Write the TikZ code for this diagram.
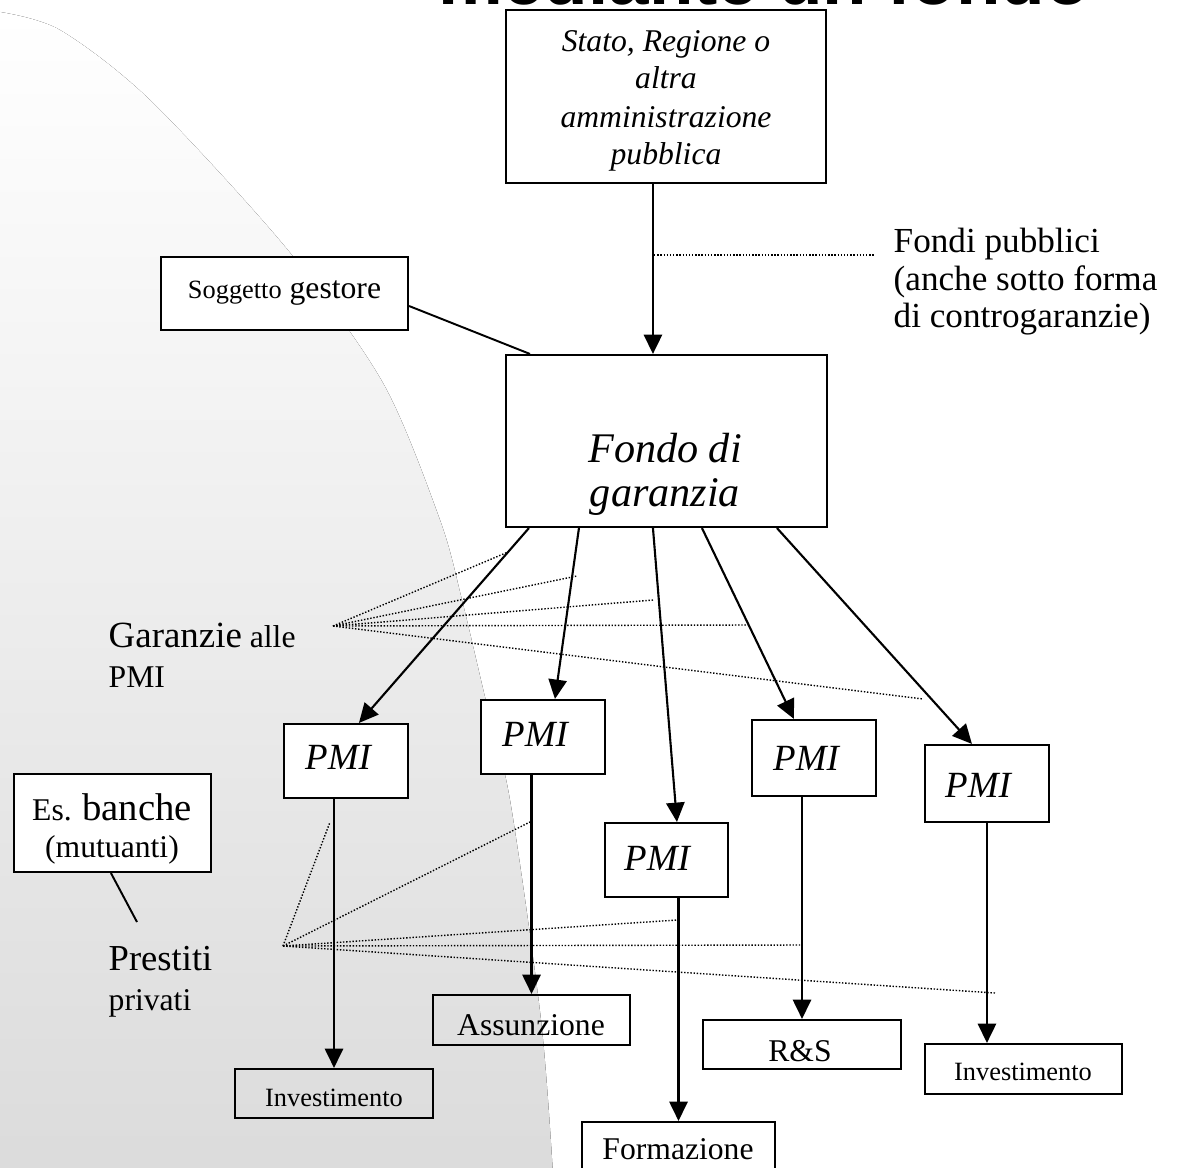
\documentclass[tikz,border=0pt]{standalone}
\usepackage{fontspec}
\setmainfont{Liberation Serif}
\newfontfamily\titlefont{Liberation Sans}
\usetikzlibrary{arrows.meta,calc,fit}
\begin{document}
\begin{tikzpicture}[x=0.01cm,y=-0.01cm,
  box/.style={draw, line width=0.6pt, inner sep=0pt},
  wbox/.style={box, fill=white},
  arr/.style={line width=0.6pt, -{Triangle[length=5.5pt,width=5.2pt]}},
  ln/.style={line width=0.55pt},
  dotl/.style={line width=0.4pt, dash pattern=on 0.4pt off 0.5pt},
  txt/.style={inner sep=0pt, anchor=base},
  ltxt/.style={inner sep=0pt, anchor=base west},
  fa/.style={font=\fontsize{7.5}{9}\selectfont},
  fb/.style={font=\fontsize{9}{10.8}\selectfont},
  fbi/.style={font=\fontsize{9}{10.8}\selectfont\itshape},
  fc/.style={font=\fontsize{10}{12}\selectfont},
  fpmi/.style={font=\fontsize{10.5}{12.5}\selectfont\itshape},
  fbig/.style={font=\fontsize{12}{14}\selectfont\itshape}
]
\useasboundingbox (0,0) rectangle (1177,1167);
\clip (0,0) rectangle (1177,1167);
% background shape
\fill[top color=white, bottom color=black!14]
  plot[smooth] coordinates {(0,12) (60,30) (150,100) (287,249) (383,383) (440,520) (462,600) (485,697) (510,800) (541,1020) (553,1175)}
  -- (0,1175) -- cycle;
% title (cut off at the top)
\node[inner sep=0pt, anchor=base west, font=\titlefont\bfseries\fontsize{20.7}{24}\selectfont] (title) at (438,5) {mediante un fondo};

% boxes
\node[wbox, fit={(506,10) (826,183)}] (stato) {};
\node[wbox, fit={(161,257) (408,330)}] (sogg) {};
\node[wbox, fit={(506,355) (827,527)}] (fondo) {};
\node[wbox, fit={(284,724) (408,798)}] (pmi1) {};
\node[wbox, fit={(481,700) (605,774)}] (pmi2) {};
\node[wbox, fit={(605,823) (728,897)}] (pmi3) {};
\node[wbox, fit={(752,720) (876,796)}] (pmi4) {};
\node[wbox, fit={(925,745) (1049,822)}] (pmi5) {};
\node[wbox, fit={(14,774) (211,872)}] (es) {};
\node[box, fit={(235,1069) (433,1118)}] (inv1) {};
\node[box, fit={(433,995) (630,1045)}] (ass) {};
\node[box, fit={(582,1122) (775,1185)}] (form) {};
\node[box, fit={(703,1020) (901,1069)}] (rs) {};
\node[box, fit={(925,1044) (1122,1094)}] (inv2) {};

% texts
\node[txt, fbi] (st1) at (666,52) {Stato, Regione o};
\node[txt, fbi] (st2) at (666,89) {altra};
\node[txt, fbi] (st3) at (666,128) {amministrazione};
\node[txt, fbi] (st4) at (666,165) {pubblica};
\node[txt, fb] (sogt) at (284.5,298) {{\fontsize{7.5}{9}\selectfont Soggetto} gestore};
\node[ltxt, fc] (fp1) at (893,252) {Fondi pubblici};
\node[ltxt, fc] (fp2) at (893,290) {(anche sotto forma};
\node[ltxt, fc] (fp3) at (893,327) {di controgaranzie)};
\node[txt, fbig] (fo1) at (665,462) {Fondo di};
\node[txt, fbig] (fo2) at (665,506) {garanzia};
\node[txt, fpmi] (pt1) at (338,769) {PMI};
\node[txt, fpmi] (pt2) at (535,746) {PMI};
\node[txt, fpmi] (pt3) at (657,870) {PMI};
\node[txt, fpmi] (pt4) at (806,770) {PMI};
\node[txt, fpmi] (pt5) at (978,797) {PMI};
\node[ltxt, fb] (g1) at (108,647) {{\fontsize{10.5}{12}\selectfont Garanzie} alle};
\node[ltxt, fb] (g2) at (108,687) {PMI};
\node[ltxt, fb] (pr1) at (108,970) {{\fontsize{10.4}{12}\selectfont Prestiti}};
\node[ltxt, fb] (pr2) at (108,1010) {privati};
\node[txt, fb] (es1) at (112,820) {Es. {\fontsize{11}{13}\selectfont banche}};
\node[txt, fb] (es2) at (112,857) {(mutuanti)};
\node[txt, fa] (it1) at (334,1106) {Investimento};
\node[txt, fb] (at) at (531,1035) {Assunzione};
\node[txt, fb] (ft) at (678,1159) {Formazione};
\node[txt, fb] (rt) at (800,1061) {R\&S};
\node[txt, fa] (it2) at (1023,1080) {Investimento};

% connectors
\draw[arr] ($(stato.south west)+(148,0)$) -- ($(fondo.north west)+(148,0)$);
\draw[ln] ($(sogg.east)+(0,12.5)$) -- ($(fondo.north west)+(25,0)$);
\coordinate (fpa) at (654,255);
\coordinate (fpb) at (875,255);
\draw[dotl] (fpa) -- (fpb);

\draw[arr] ($(fondo.south west)+(24,0)$) -- ($(pmi1.north west)+(76,0)$);
\draw[arr] ($(fondo.south west)+(74,0)$) -- ($(pmi2.north west)+(75,0)$);
\draw[arr] ($(fondo.south west)+(148,0)$) -- ($(pmi3.north west)+(73,0)$);
\draw[arr] ($(fondo.south west)+(197,0)$) -- ($(pmi4.north west)+(43,0)$);
\draw[arr] ($(fondo.south west)+(272,0)$) -- ($(pmi5.north west)+(48,0)$);

\draw[arr] (pmi1.south -| inv1.north) -- (inv1.north);
\draw[arr] (pmi2.south -| ass.north) -- (ass.north);
\draw[arr] (pmi3.south -| form.north) -- (form.north);
\draw[arr] (pmi4.south -| rs.north) -- (rs.north);
\draw[arr] ($(pmi5.south west)+(63,0)$) -- ($(inv2.north west)+(63,0)$);

\coordinate (esl) at (137,922);
\draw[ln] ($(es.south west)+(98,0)$) -- (esl);

% dotted fans
\coordinate (g0) at (333,626);
\coordinate (ga) at (508,552);
\coordinate (gb) at (577,576);
\coordinate (gc) at (653,600);
\coordinate (gd) at (749,625);
\coordinate (ge) at (923,699);
\foreach \e in {ga,gb,gc,gd,ge} \draw[dotl] (g0) -- (\e);
\coordinate (p0) at (283,946);
\coordinate (pa) at (330,822);
\coordinate (pb) at (530,822);
\coordinate (pc) at (677,920);
\coordinate (pd) at (800,945);
\coordinate (pe) at (995,993);
\foreach \e in {pa,pb,pc,pd,pe} \draw[dotl] (p0) -- (\e);
\end{tikzpicture}
\end{document}
